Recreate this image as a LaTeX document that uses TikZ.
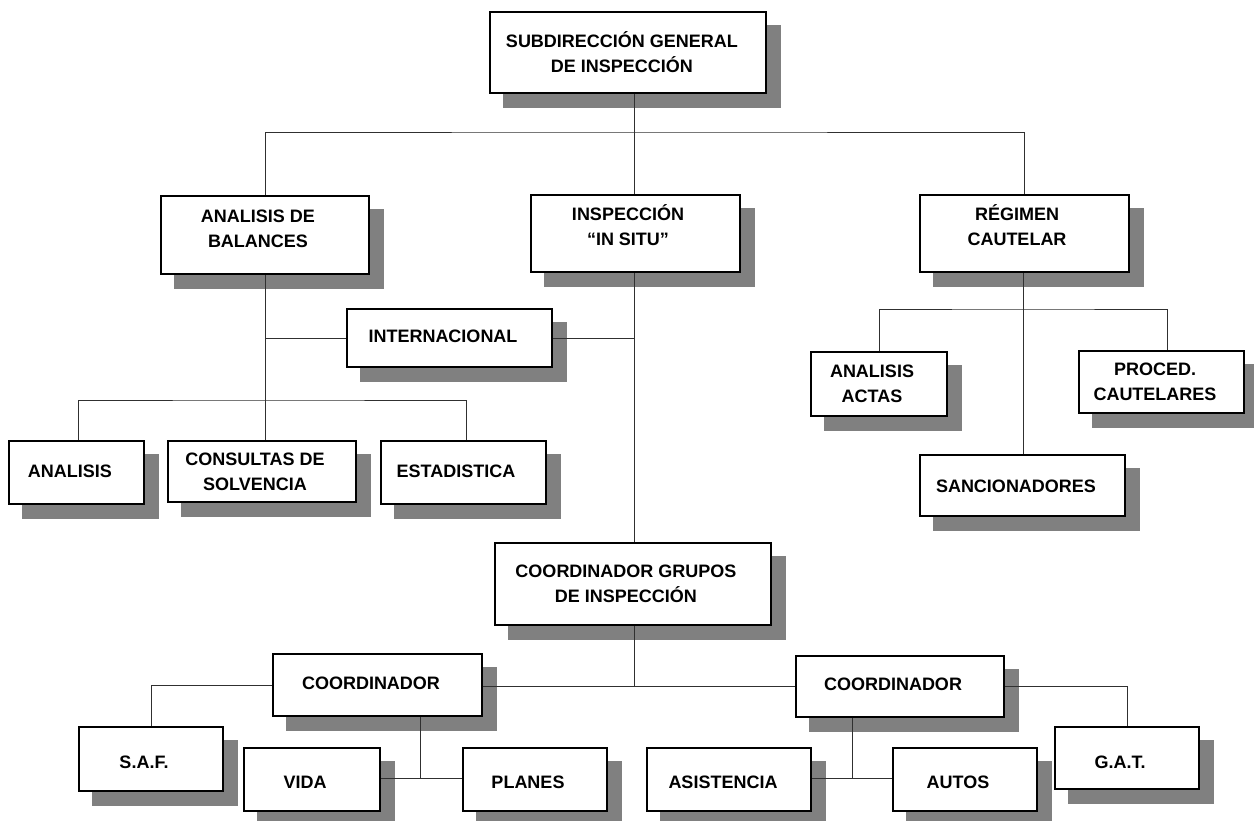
\documentclass[tikz,border=0pt]{standalone}
\usepackage{fontspec}
\setmainfont{Liberation Sans}
\pgfdeclarelayer{shadowlayer}
\pgfdeclarelayer{linklayer}
\pgfsetlayers{shadowlayer,linklayer,main}
\definecolor{shadowgray}{HTML}{808080}
\definecolor{linkgray}{HTML}{303030}
\tikzset{
  orgbox/.style={draw=black, line width=2.5pt, fill=white, inner sep=0pt, outer sep=0pt},
  orgtext/.style={inner sep=0pt, anchor=base, font=\fontsize{18}{25}\selectfont\bfseries},
  boxshadow/.style={fill=shadowgray},
  link/.style={draw=linkgray, line width=1pt},
}
% #1 name, #2 left, #3 top, #4 right, #5 bottom, #6 text centre x, #7 first baseline, #8 text
\newcommand\orgunit[8]{%
  \begin{pgfonlayer}{shadowlayer}
    \fill[boxshadow] (#2+13,#3+13) rectangle (#4+15,#5+15);
  \end{pgfonlayer}
  \node[orgbox, minimum width={(#4-#2)*1pt}, minimum height={(#5-#3)*1pt}]
    (#1) at ({(#2+#4)/2},{(#3+#5)/2}) {};
  \node[orgtext] (#1-t) at (#6,#7)
    {\begin{tabular}[t]{@{}c@{}}#8\end{tabular}};%
}
\begin{document}
\begin{tikzpicture}[x=1pt,y=-1pt]
\useasboundingbox (0,0) rectangle (1254,820);

% units
\orgunit{top}{490}{12}{766}{93}{622}{47}{SUBDIRECCIÓN GENERAL\\DE INSPECCIÓN}
\orgunit{balances}{161}{196}{369}{274}{258}{222}{ANALISIS DE\\BALANCES}
\orgunit{insitu}{531}{195}{740}{272}{628}{220}{INSPECCIÓN\\“IN SITU”}
\orgunit{regimen}{920}{195}{1129}{272}{1017}{220}{RÉGIMEN\\CAUTELAR}
\orgunit{internacional}{347}{309}{552}{367}{443}{342}{INTERNACIONAL}
\orgunit{analisis}{9}{441}{144}{504}{70}{477}{ANALISIS}
\orgunit{consultas}{168}{441}{356}{502}{255}{465}{CONSULTAS DE\\SOLVENCIA}
\orgunit{estadistica}{381}{441}{546}{504}{456}{477}{ESTADISTICA}
\orgunit{actas}{811}{352}{947}{416}{872}{377}{ANALISIS\\ACTAS}
\orgunit{proced}{1079}{351}{1244}{413}{1155}{375}{PROCED.\\CAUTELARES}
\orgunit{sancion}{920}{455}{1125}{516}{1016}{492}{SANCIONADORES}
\orgunit{grupos}{495}{543}{771}{625}{626}{577}{COORDINADOR GRUPOS\\DE INSPECCIÓN}
\orgunit{coordL}{273}{654}{482}{716}{371}{689}{COORDINADOR}
\orgunit{coordR}{796}{656}{1004}{717}{893}{690}{COORDINADOR}
\orgunit{saf}{79}{727}{223}{791}{144}{768}{S.A.F.}
\orgunit{vida}{244}{748}{380}{811}{305}{788}{VIDA}
\orgunit{planes}{463}{748}{607}{811}{528}{788}{PLANES}
\orgunit{asistencia}{647}{748}{811}{811}{723}{788}{ASISTENCIA}
\orgunit{autos}{893}{748}{1037}{811}{958}{788}{AUTOS}
\orgunit{gat}{1055}{727}{1199}{789}{1120}{768}{G.A.T.}

% junction points
\coordinate (jmain) at (634,132);
\coordinate (jbal) at (265,400);
\coordinate (jreg) at (1023,309);
\coordinate (jproc) at (1167,309);
\coordinate (jgrp) at (634,686);
\coordinate (jleft) at (420,778);
\coordinate (jright) at (852,778);

\begin{pgfonlayer}{linklayer}
  % top level
  \draw[link] (top.south -| jmain) -- (jmain);
  \draw[link] (balances.north) |- (jmain) -| (regimen.north);
  \draw[link] (jmain) -- (insitu.north -| jmain);
  % analisis de balances
  \draw[link] (balances.south) -- (consultas.north -| balances.south);
  \draw[link] (analisis.north -| 78,0) |- (jbal) -| (estadistica.north -| 466,0);
  \draw[link] (internacional.west) -- (internacional.west -| balances.south);
  % inspeccion in situ
  \draw[link] (insitu.south -| jmain) -- (grupos.north -| jmain);
  \draw[link] (internacional.east) -- (internacional.east -| jmain);
  % regimen cautelar
  \draw[link] (regimen.south -| jreg) -- (sancion.north -| jreg);
  \draw[link] (actas.north) |- (jreg) -- (jproc) -- (proced.north -| jproc);
  % coordinador grupos
  \draw[link] (grupos.south -| jgrp) -- (jgrp);
  \draw[link] (coordL.east |- jgrp) -- (coordR.west |- jgrp);
  % left coordinator
  \draw[link] (coordL.west) -| (saf.north);
  \draw[link] (coordL.south -| jleft) -- (jleft);
  \draw[link] (vida.east |- jleft) -- (planes.west |- jleft);
  % right coordinator
  \draw[link] (coordR.east) -| (gat.north);
  \draw[link] (coordR.south -| jright) -- (jright);
  \draw[link] (asistencia.east |- jright) -- (autos.west |- jright);
\end{pgfonlayer}
\end{tikzpicture}
\end{document}
